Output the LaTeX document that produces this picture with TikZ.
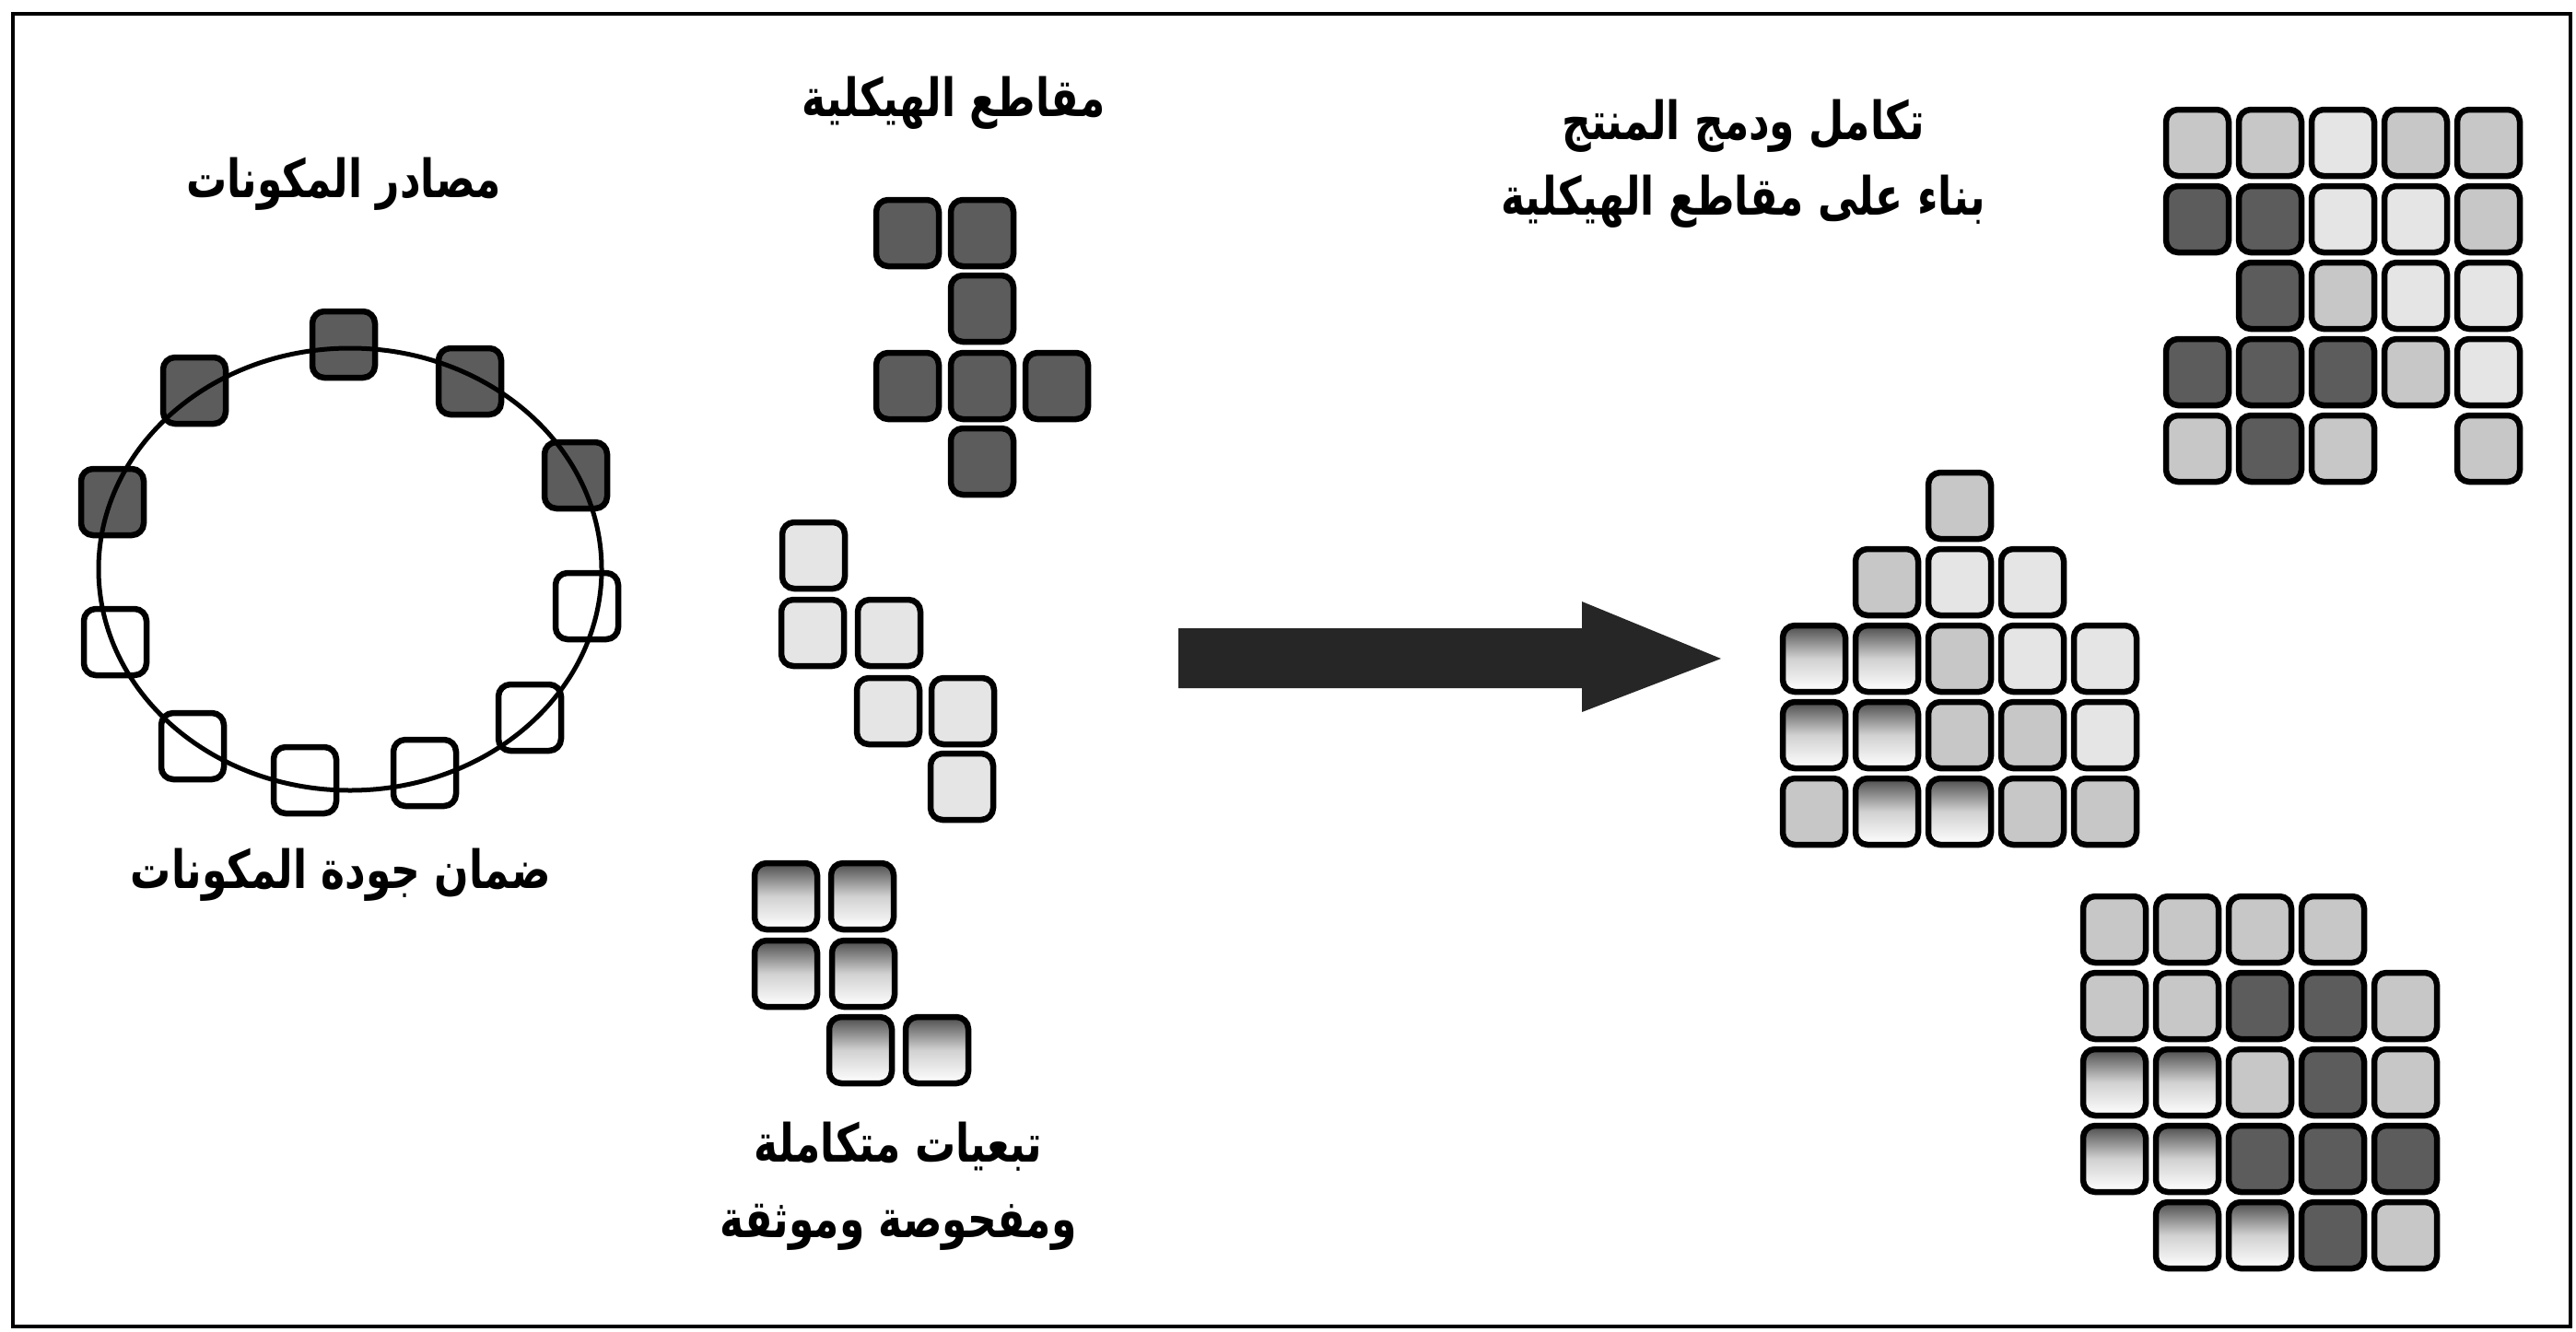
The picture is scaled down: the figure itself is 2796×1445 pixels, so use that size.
\documentclass[tikz,border=0pt]{standalone}
\usepackage{fontspec}
\usepackage{graphicx}
\TeXXeTstate=1
\newfontfamily\arabicfont[Script=Arabic]{DejaVu Sans}
\newcommand{\artxt}[1]{\scalebox{1}[1.3]{\beginR #1\endR}}
\begin{document}
\begin{tikzpicture}[x=1pt,y=-1pt,
  sq/.style={draw=black, line width=6.5pt, rounded corners=13pt, minimum width=68pt, minimum height=72pt, inner sep=0pt},
  dk/.style={sq, fill=black!64},
  lt/.style={sq, fill=black!10},
  md/.style={sq, fill=black!22},
  wh/.style={sq, fill=white},
  gr/.style={sq, top color=black!70, bottom color=white, middle color=black!18},
  lbl/.style={font=\arabicfont\bfseries\fontsize{44}{82}\selectfont, align=center, inner sep=0pt},
  ring/.style={line width=5pt},
  frame/.style={line width=4pt},
  bigarrow/.style={fill=black!85}
]
\useasboundingbox (0,0) rectangle (2796,1445);
\draw[frame] (14,15) rectangle (2790,1440);

% ---- ring of components ----
\node[dk] (r1) at (373,374) {};
\node[dk] (r2) at (211,424) {};
\node[dk] (r3) at (122,545) {};
\node[dk] (r4) at (510,414) {};
\node[dk] (r5) at (625,516) {};
\node[wh] (r6) at (637,658) {};
\node[wh] (r7) at (125,697) {};
\node[wh] (r8) at (575,779) {};
\node[wh] (r9) at (209,810) {};
\node[wh] (r10) at (331,847) {};
\node[wh] (r11) at (461,839) {};
\draw[ring] (380,618) ellipse [x radius=273, y radius=240];

\node[lbl] (src) at (373,200) {\artxt{مصادر المكونات}};
\node[lbl] (qa) at (370,950) {\artxt{ضمان جودة المكونات}};

% ---- architecture sections ----
\node[lbl] (sec) at (1035,112) {\artxt{مقاطع الهيكلية}};
\node[dk] (c1) at (985,253) {};
\node[dk] (c2) at (1066,253) {};
\node[dk] (c3) at (1066,335) {};
\node[dk] (c4) at (985,419) {};
\node[dk] (c5) at (1066,419) {};
\node[dk] (c6) at (1147,419) {};
\node[dk] (c7) at (1066,501) {};

\node[lt] (s1) at (883,603) {};
\node[lt] (s2) at (882,687) {};
\node[lt] (s3) at (965,687) {};
\node[lt] (s4) at (964,772) {};
\node[lt] (s5) at (1045,772) {};
\node[lt] (s6) at (1044,854) {};

\node[gr] (g1) at (853,973) {};
\node[gr] (g2) at (936,973) {};
\node[gr] (g3) at (853,1057) {};
\node[gr] (g4) at (937,1057) {};
\node[gr] (g5) at (934,1140) {};
\node[gr] (g6) at (1017,1140) {};

\node[lbl] (dep) at (975,1288) {\artxt{تبعيات متكاملة}\\\artxt{ومفحوصة وموثقة}};

% ---- big arrow ----
\coordinate (a1) at (1868,715);
\fill[bigarrow] (1279,682) -- (1717,682) -- (1717,653) -- (a1) -- (1717,773) -- (1717,747) -- (1279,747) -- cycle;

% ---- integration ----
\node[lbl] (int) at (1892,178) {\artxt{تكامل ودمج المنتج}\\\artxt{بناء على مقاطع الهيكلية}};

% top-right grid
\foreach \c/\r/\s in {0/0/md,1/0/md,2/0/lt,3/0/md,4/0/md,
                      0/1/dk,1/1/dk,2/1/lt,3/1/lt,4/1/md,
                      1/2/dk,2/2/md,3/2/lt,4/2/lt,
                      0/3/dk,1/3/dk,2/3/dk,3/3/md,4/3/lt,
                      0/4/md,1/4/dk,2/4/md,4/4/md}
  \node[\s] (t\r\c) at ({2385+79*\c},{155+83*\r}) {};

% pyramid
\foreach \c/\r/\s in {2/0/md,
                      1/1/md,2/1/lt,3/1/lt,
                      0/2/gr,1/2/gr,2/2/md,3/2/lt,4/2/lt,
                      0/3/gr,1/3/gr,2/3/md,3/3/md,4/3/lt,
                      0/4/md,1/4/gr,2/4/gr,3/4/md,4/4/md}
  \node[\s] (p\r\c) at ({1969+79*\c},{549+83*\r}) {};

% bottom-right grid
\foreach \c/\r/\s in {0/0/md,1/0/md,2/0/md,3/0/md,
                      0/1/md,1/1/md,2/1/dk,3/1/dk,4/1/md,
                      0/2/gr,1/2/gr,2/2/md,3/2/dk,4/2/md,
                      0/3/gr,1/3/gr,2/3/dk,3/3/dk,4/3/dk,
                      1/4/gr,2/4/gr,3/4/dk,4/4/md}
  \node[\s] (b\r\c) at ({2295+79*\c},{1009+83*\r}) {};
\end{tikzpicture}
\end{document}
